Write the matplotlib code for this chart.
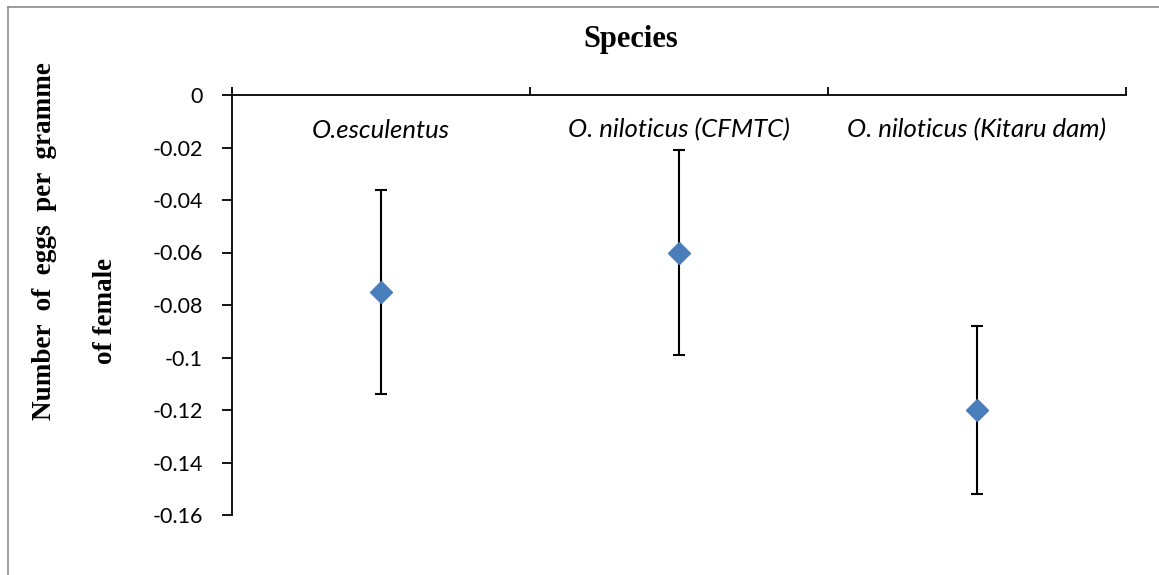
import matplotlib
matplotlib.use('Agg')
import matplotlib.pyplot as plt
from matplotlib.transforms import blended_transform_factory, offset_copy

# mean egg counts per gramme of female, with error bar half-widths
species = ['O.esculentus', 'O. niloticus (CFMTC)', 'O. niloticus (Kitaru dam)']
means = [-0.075, -0.060, -0.120]
errors = [0.039, 0.039, 0.032]
y_ticks = [0, -0.02, -0.04, -0.06, -0.08, -0.1, -0.12, -0.14, -0.16]
y_tick_labels = ['0', '-0.02', '-0.04', '-0.06', '-0.08', '-0.1', '-0.12', '-0.14', '-0.16']

W, H = 1159, 575
fig = plt.figure(figsize=(W / 100, H / 100), dpi=100)

# thin grey frame around the chart area (top and left edges)
fig.add_artist(plt.Line2D([8 / W, 1.0], [1 - 7 / H, 1 - 7 / H], color='#8c8c8c', lw=1.2,
                          transform=fig.transFigure))
fig.add_artist(plt.Line2D([8 / W, 8 / W], [0.0, 1 - 7 / H], color='#8c8c8c', lw=1.2,
                          transform=fig.transFigure))

ax = fig.add_axes([232 / W, 1 - 515 / H, (1126 - 232) / W, (515 - 95) / H])
x = list(range(1, len(species) + 1))
ax.errorbar(x, means, yerr=errors, fmt='D', color='#4a7ebb', ms=11, mec='#4a7ebb',
            ecolor='black', elinewidth=1.5, capsize=4.4, capthick=1.5, zorder=3)

ax.set_xlim(0.5, len(species) + 0.5)
ax.set_ylim(-0.16, 0)
ax.spines['right'].set_visible(False)
ax.spines['bottom'].set_visible(False)
ax.spines['top'].set_linewidth(1.3)
ax.spines['left'].set_linewidth(1.3)

ax.xaxis.set_ticks_position('top')
ax.set_xticks([i + 0.5 for i in range(len(species) + 1)])
ax.set_xticklabels([])
ax.tick_params(axis='x', direction='out', length=6, width=1.3)

ax.set_yticks(y_ticks)
ax.set_yticklabels(y_tick_labels, fontfamily='Lato', fontsize=15.5)
ax.tick_params(axis='y', direction='out', length=7, width=1.3, pad=14)

# category names sit just under the zero line
tr = offset_copy(blended_transform_factory(ax.transData, ax.transAxes), fig=fig, x=0, y=-35,
                 units='dots')
for xi, name in zip(x, species):
    ax.text(xi, 1.0, name, transform=tr, ha='center', va='center',
            fontfamily='Lato', fontstyle='italic', fontsize=18.5)

fig.text(631 / W, 1 - 40 / H, 'Species', ha='center', va='center',
         fontfamily='Liberation Serif', fontweight='bold', fontsize=22)
fig.text(45 / W, 1 - 241 / H, 'Number  of  eggs  per  gramme', ha='center', va='center',
         rotation=90, fontfamily='Liberation Serif', fontweight='bold', fontsize=19.5)
fig.text(105 / W, 1 - 311 / H, 'of female', ha='center', va='center',
         rotation=90, fontfamily='Liberation Serif', fontweight='bold', fontsize=19.5)

fig.savefig('out.png', dpi=100)
